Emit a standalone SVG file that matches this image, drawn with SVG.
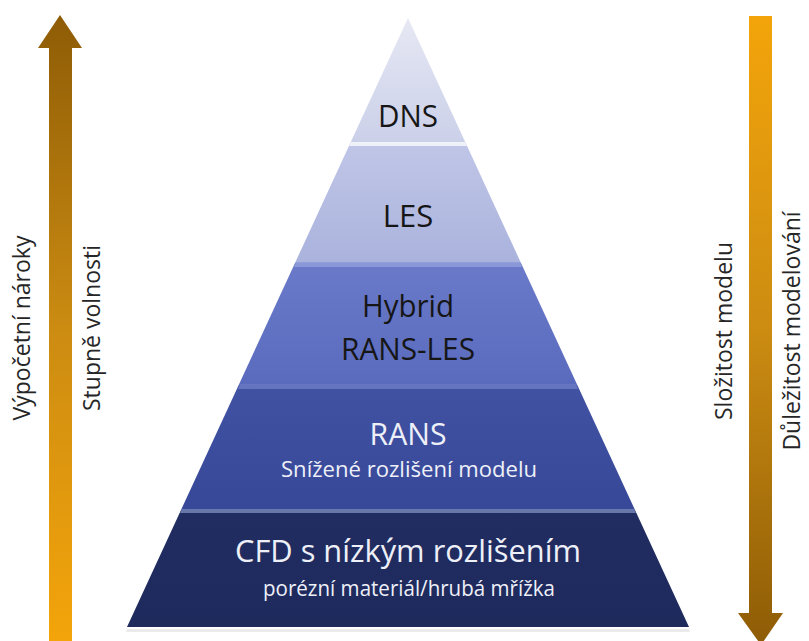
<svg xmlns="http://www.w3.org/2000/svg" width="809" height="641" viewBox="0 0 809 641">
  <style>
    .lbl { font-family: "Open Sans", "Noto Sans", "DejaVu Sans", sans-serif; text-anchor: middle; }
    .big { font-size: 31px; }
    .sub { font-size: 21.5px; }
    .dark { fill: #161616; }
    .light { fill: #eef0f8; }
    .side { font-size: 23px; fill: #262626; }
    .hl { opacity: 0.9; }
  </style>
  <defs>
    <linearGradient id="gUp" x1="0" y1="1" x2="0" y2="0">
      <stop offset="0" stop-color="#f3a40a"/>
      <stop offset="0.5" stop-color="#cc8c12"/>
      <stop offset="1" stop-color="#8e5c06"/>
    </linearGradient>
    <linearGradient id="gDown" x1="0" y1="0" x2="0" y2="1">
      <stop offset="0" stop-color="#f3a40a"/>
      <stop offset="0.5" stop-color="#cc8c12"/>
      <stop offset="1" stop-color="#8e5c06"/>
    </linearGradient>
    <linearGradient id="gDNS" x1="0" y1="0" x2="0" y2="1">
      <stop offset="0" stop-color="#e6e8f4"/>
      <stop offset="1" stop-color="#cbd0e9"/>
    </linearGradient>
    <linearGradient id="gLES" x1="0" y1="0" x2="0" y2="1">
      <stop offset="0" stop-color="#c0c6e7"/>
      <stop offset="1" stop-color="#aab3dd"/>
    </linearGradient>
    <linearGradient id="gHyb" x1="0" y1="0" x2="0" y2="1">
      <stop offset="0" stop-color="#6a7ac9"/>
      <stop offset="1" stop-color="#5a6bbe"/>
    </linearGradient>
    <linearGradient id="gRANS" x1="0" y1="0" x2="0" y2="1">
      <stop offset="0" stop-color="#4152a3"/>
      <stop offset="1" stop-color="#374898"/>
    </linearGradient>
    <linearGradient id="gCFD" x1="0" y1="0" x2="0" y2="1">
      <stop offset="0" stop-color="#212d61"/>
      <stop offset="1" stop-color="#1e2a5c"/>
    </linearGradient>
  </defs>

  <g id="arrow-left">
    <polygon points="60,15 82,48 72,48 72,641 49,641 49,48 38,48" fill="url(#gUp)"/>
    <text class="lbl side" transform="translate(30,328) rotate(-90)">Výpočetní nároky</text>
    <text class="lbl side" transform="translate(100,328) rotate(-90)">Stupně volnosti</text>
  </g>

  <g id="arrow-right">
    <polygon points="749,16 772,16 772,613 783,613 761,645 738,613 749,613" fill="url(#gDown)"/>
    <text class="lbl side" transform="translate(732,331) rotate(-90)">Složitost modelu</text>
    <text class="lbl side" transform="translate(800,331) rotate(-90)">Důležitost modelování</text>
  </g>

  <g id="pyramid">
    <polygon points="127,629 689,629 690,632 126,632" fill="#000" opacity="0.08"/>
    <g id="layer-dns">
      <polygon points="408,18 465.7,143 350.3,143" fill="url(#gDNS)"/>
      <text class="lbl big dark" x="408" y="127" textLength="60" lengthAdjust="spacingAndGlyphs">DNS</text>
    </g>
    <g id="layer-les">
      <polygon points="350.3,143 465.7,143 521,263 295,263" fill="url(#gLES)"/>
      <polygon class="hl" points="351,142 465,142 467,146 349,146" fill="#f4f5fb"/>
      <text class="lbl big dark" x="408" y="227">LES</text>
    </g>
    <g id="layer-hybrid">
      <polygon points="295,263 521,263 577.3,385 238.7,385" fill="url(#gHyb)"/>
      <polygon class="hl" points="296,262 520,262 522,267 294,267" fill="#8f9bd8"/>
      <text class="lbl big dark" x="408" y="317" textLength="92" lengthAdjust="spacingAndGlyphs">Hybrid</text>
      <text class="lbl big dark" x="408" y="360" textLength="134" lengthAdjust="spacingAndGlyphs">RANS-LES</text>
    </g>
    <g id="layer-rans">
      <polygon points="238.7,385 577.3,385 635,510 181,510" fill="url(#gRANS)"/>
      <polygon class="hl" points="240,384 576,384 578,389 238,389" fill="#6878c2"/>
      <text class="lbl big light" x="408" y="445" textLength="77" lengthAdjust="spacingAndGlyphs">RANS</text>
      <text class="lbl sub light" x="409" y="477" textLength="256" lengthAdjust="spacingAndGlyphs">Snížené rozlišení modelu</text>
    </g>
    <g id="layer-cfd">
      <polygon points="181,510 635,510 689,627 127,627" fill="url(#gCFD)"/>
      <polygon class="hl" points="182,509 634,509 636,513 180,513" fill="#7080b2"/>
      <text class="lbl big light" x="408" y="562" textLength="346" lengthAdjust="spacingAndGlyphs">CFD s nízkým rozlišením</text>
      <text class="lbl sub light" x="409" y="596" textLength="292" lengthAdjust="spacingAndGlyphs">porézní materiál/hrubá mřížka</text>
    </g>
  </g>
</svg>
